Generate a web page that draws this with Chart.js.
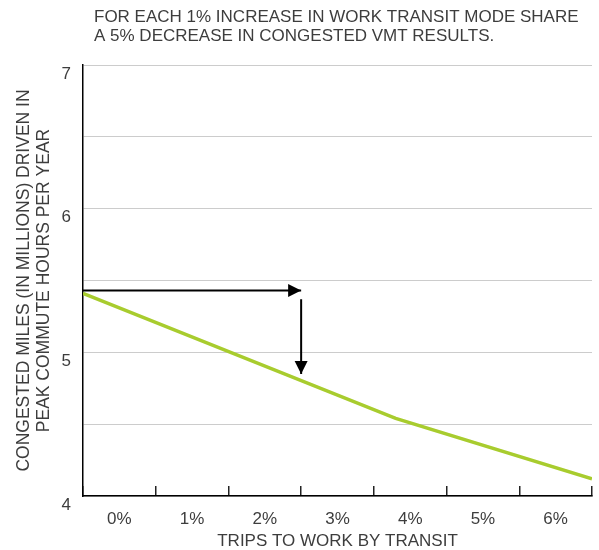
<!DOCTYPE html>
<html>
<head>
<meta charset="utf-8">
<script src="https://cdn.jsdelivr.net/npm/chart.js@4/dist/chart.umd.min.js"></script>
<style>
  html, body { margin: 0; padding: 0; background: #fff; }
  #wrap { width: 599px; height: 550px; position: relative; }
</style>
</head>
<body>
<div id="wrap"><canvas id="vmtChart"></canvas></div>
<script>
// --- chart data ---
const titleLines = [
  "FOR EACH 1% INCREASE IN WORK TRANSIT MODE SHARE",
  "A 5% DECREASE IN CONGESTED VMT RESULTS.",
];
const xLabels = ["0%", "1%", "2%", "3%", "4%", "5%", "6%"];
const yTitle = [
  "CONGESTED MILES (IN MILLIONS) DRIVEN IN",
  "PEAK COMMUTE HOURS PER YEAR",
];
const xTitle = "TRIPS TO WORK BY TRANSIT";

// trend line (x in category units, -0.5 = left edge)
const trendShare = [-0.5, 3.8, 6.5];
const trendVmt = [5.41, 4.54, 4.12];

// annotation arrows
const arrowShare = [-0.5, 2.5];
const arrowVmt = [5.43, 5.43];
const dropShare = [2.5, 2.5];
const dropVmt = [5.37, 4.85];

const toPoints = (xs, ys) => xs.map((x, i) => ({ x: x, y: ys[i] }));

const FONT = "'Liberation Sans', Arial, Helvetica, sans-serif";
const TEXT = "#3d3d3d";

Chart.defaults.font.family = FONT;
Chart.defaults.font.size = 17;
Chart.defaults.color = TEXT;

// heading drawn left-aligned above the plot
const headingPlugin = {
  id: "heading",
  afterDraw(chart) {
    const ctx = chart.ctx;
    ctx.save();
    ctx.font = "17px " + FONT;
    ctx.fillStyle = TEXT;
    ctx.textAlign = "left";
    ctx.textBaseline = "middle";
    titleLines.forEach((line, i) => {
      ctx.fillText(line, 94, 17 + i * 19);
    });
    ctx.restore();
  },
};

// arrowheads at the end of datasets flagged with arrowHead
const arrowPlugin = {
  id: "arrowHeads",
  afterDatasetsDraw(chart) {
    const ctx = chart.ctx;
    chart.data.datasets.forEach((ds, i) => {
      if (!ds.arrowHead) return;
      const pts = chart.getDatasetMeta(i).data;
      if (pts.length < 2) return;
      const a = pts[pts.length - 2];
      const b = pts[pts.length - 1];
      const ang = Math.atan2(b.y - a.y, b.x - a.x);
      const len = 13;
      const half = 6.5;
      ctx.save();
      ctx.translate(b.x, b.y);
      ctx.rotate(ang);
      ctx.beginPath();
      ctx.moveTo(0, 0);
      ctx.lineTo(-len, -half);
      ctx.lineTo(-len, half);
      ctx.closePath();
      ctx.fillStyle = ds.borderColor;
      ctx.fill();
      ctx.restore();
    });
  },
};

const ctx = document.getElementById("vmtChart").getContext("2d");
const vmtChart = new Chart(ctx, {
  type: "line",
  data: {
    labels: xLabels,
    datasets: [
      {
        label: "Congested VMT",
        data: toPoints(trendShare, trendVmt),
        xAxisID: "x2",
        borderColor: "#a8cc2e",
        borderWidth: 3.5,
        pointRadius: 0,
        tension: 0,
      },
      {
        label: "Arrow across",
        data: toPoints(arrowShare, arrowVmt),
        xAxisID: "x2",
        borderColor: "#000",
        borderWidth: 2,
        pointRadius: 0,
        arrowHead: true,
      },
      {
        label: "Arrow down",
        data: toPoints(dropShare, dropVmt),
        xAxisID: "x2",
        borderColor: "#000",
        borderWidth: 2,
        pointRadius: 0,
        arrowHead: true,
      },
    ],
  },
  options: {
    responsive: true,
    maintainAspectRatio: false,
    animation: false,
    layout: {
      padding: { top: 65, right: 7, left: 0, bottom: 0 },
    },
    plugins: {
      legend: { display: false },
      tooltip: { enabled: false },
    },
    scales: {
      x: {
        type: "category",
        offset: true,
        grid: {
          offset: true,
          drawOnChartArea: false,
          drawTicks: true,
          tickLength: -10,
          color: "#222",
          lineWidth: 1.5,
        },
        border: { color: "#000", width: 1.5 },
        ticks: { padding: 23, color: TEXT },
        title: {
          display: true,
          text: xTitle,
          color: TEXT,
          font: { size: 17 },
          padding: { top: 0, bottom: -2 },
        },
        afterFit(scale) {
          scale.height = 54;
        },
      },
      x2: {
        type: "linear",
        display: false,
        min: -0.5,
        max: 6.5,
      },
      y: {
        min: 4,
        max: 7,
        grid: {
          color: "#cccccc",
          lineWidth: 1,
          drawTicks: false,
        },
        border: { color: "#000", width: 1.5 },
        ticks: {
          stepSize: 0.5,
          padding: 12,
          labelOffset: 9,
          color: TEXT,
          callback: (v) => (v % 1 === 0 ? v : ""),
        },
        title: {
          display: true,
          text: yTitle,
          color: TEXT,
          font: { size: 17.5, lineHeight: 1.1 },
          padding: { top: 15, bottom: 0 },
        },
        afterFit(scale) {
          scale.width = 83;
        },
      },
    },
  },
  plugins: [headingPlugin, arrowPlugin],
});
</script>
</body>
</html>
